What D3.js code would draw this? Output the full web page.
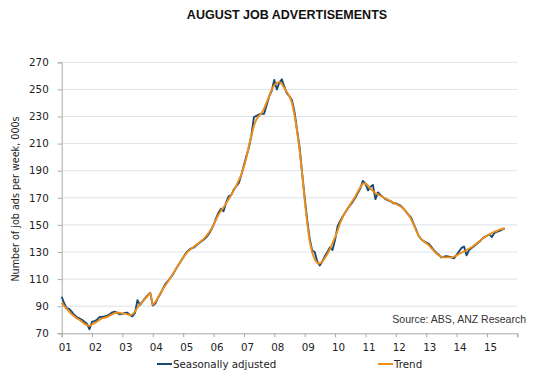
<!DOCTYPE html>
<html>
<head>
<meta charset="utf-8">
<script src="https://cdn.jsdelivr.net/npm/d3@7"></script>
<style>
  html, body { margin: 0; padding: 0; background: #ffffff; }
  svg { display: block; }
</style>
</head>
<body>
<svg id="chart" width="542" height="376"></svg>
<script>
// ---------- data ----------
const chartTitle = "AUGUST JOB ADVERTISEMENTS";
const yAxisTitle = "Number of job ads per week, 000s";
const sourceNote = "Source: ABS, ANZ Research";
const seriesNames = ["Seasonally adjusted", "Trend"];
const firstMonth = "2001-01";   // monthly observations, Jan 2001 .. Aug 2015
const xTickYears = [2001, 2002, 2003, 2004, 2005, 2006, 2007, 2008, 2009, 2010, 2011, 2012, 2013, 2014, 2015];
const xTickLabels = ["01", "02", "03", "04", "05", "06", "07", "08", "09", "10", "11", "12", "13", "14", "15"];
const yTicks = [70, 90, 110, 130, 150, 170, 190, 210, 230, 250, 270];

const seasonallyAdjusted = [
  97, 92, 88.5, 88, 86, 83.5, 82, 81, 80, 78.5, 77, 73,            // 2001
  78.5, 79, 80, 82, 82, 82.5, 83, 84, 85.5, 86, 85, 84,            // 2002
  84.3, 85, 85.3, 83.5, 82.5, 85, 94.5, 91, 93.5, 96, 98, 100,     // 2003
  90.5, 92, 96, 99, 103, 106.5, 108.5, 111, 113.5, 117, 120, 123,  // 2004
  126, 129, 131, 132.5, 133, 134.5, 136, 137.5, 139, 140.5, 143, 146, // 2005
  150, 155, 159, 162, 160, 166.5, 171, 172, 176, 178.5, 181, 187,  // 2006
  194, 201, 207, 216, 229.5, 230.5, 231.5, 232, 232, 238.5, 245, 249, // 2007
  257, 250, 255, 257.5, 252, 247, 245, 242, 233, 220, 207, 188,    // 2008
  170, 153, 140, 131, 130, 123, 120, 123, 127, 130, 133.5, 131.5,  // 2009
  139, 149, 152.5, 156, 159, 162, 164.5, 167, 170, 173.5, 177, 182.5, // 2010
  180.5, 175.5, 178, 179.5, 169, 174, 172, 170.5, 169, 168, 167.5, 166, // 2011
  166, 165, 164, 162, 160, 157.5, 155.5, 151, 146.5, 142, 139.5, 138, // 2012
  137, 136, 134, 131.5, 129.5, 128, 126, 126.5, 127, 126.5, 126, 125.3, // 2013
  128, 130.5, 133, 134, 127.5, 131.5, 133, 134.5, 136, 137.5, 139.5, 141, // 2014
  142, 143, 141, 144, 145, 145.5, 146.5, 147.5                      // 2015
];

const trend = [
  92.5, 90, 88, 86, 84, 82.5, 81, 80, 78.5, 77, 76, 75.5,          // 2001
  76.5, 77.5, 78.5, 80, 81, 81.5, 82, 83, 84, 85, 85.5, 85,        // 2002
  84.5, 84.5, 84, 83.5, 84, 86, 89, 91.5, 93.5, 95.5, 97.5, 100,   // 2003
  91, 93, 96, 99.5, 102.5, 105.5, 108, 111, 114, 117, 120, 123,    // 2004
  126, 128.5, 130.5, 132, 133.5, 135, 136.5, 138, 139.5, 141.5, 144, 146.5, // 2005
  150, 154, 157.5, 160.5, 163, 166, 169, 172, 175.5, 179, 183, 187, // 2006
  193, 200, 208, 216, 223, 228, 230.5, 232.5, 236, 240.5, 245, 250, // 2007
  253, 255, 255.5, 254, 251, 248, 245, 240, 231, 219, 205, 188,    // 2008
  168, 151, 138, 129.5, 124.5, 122, 121.5, 123, 125.5, 128.5, 132, 136.5, // 2009
  141, 146, 151, 155.5, 159, 162, 165, 168, 171, 174.5, 178, 180.5, // 2010
  180.5, 179, 177, 175, 173.5, 172.5, 171.5, 170.5, 169.5, 168.5, 167.5, 166.5, // 2011
  165.5, 164.5, 163.5, 162, 160, 157.5, 154.5, 150.5, 146, 142, 139.5, 138, // 2012
  136.5, 135, 133, 131, 129, 127.5, 126.5, 126, 126, 126, 126, 126.5, // 2013
  127.5, 128.5, 129.5, 130.5, 131.5, 132.5, 133.5, 135, 136.5, 138, 139.5, 141, // 2014
  142, 143, 144, 145, 145.5, 146.5, 147, 147.5                     // 2015
];

// ---------- layout ----------
const svg = d3.select("#chart");
const plot = { left: 61.7, right: 517.3, top: 62.3, bottom: 333.3 };
const colors = { sa: "#1B4A72", trend: "#EE8F1C", grid: "#DCE3EA", axis: "#A8A8A8", text: "#222222" };
const tickFont = "'DejaVu Sans', Verdana, sans-serif";

const parseMonth = d3.timeParse("%Y-%m");
const start = parseMonth(firstMonth);
const dates = d3.range(seasonallyAdjusted.length).map(i => d3.timeMonth.offset(start, i));

const x = d3.scaleTime()
  .domain([new Date(2001, 0, 1), new Date(2016, 0, 1)])
  .range([plot.left, plot.right]);
const y = d3.scaleLinear()
  .domain([d3.min(yTicks), d3.max(yTicks)])
  .range([plot.bottom, plot.top]);

// gridlines
svg.append("g").selectAll("line").data(yTicks.filter(v => v !== 70)).join("line")
  .attr("x1", plot.left).attr("x2", plot.right)
  .attr("y1", d => y(d)).attr("y2", d => y(d))
  .attr("stroke", colors.grid).attr("stroke-width", 1);

// y axis
const yAxis = d3.axisLeft(y).tickValues(yTicks).tickSize(4).tickPadding(9).tickFormat(d3.format("d"));
const gy = svg.append("g").attr("transform", `translate(${plot.left},0)`).call(yAxis);
gy.select(".domain").attr("stroke", colors.axis);
gy.selectAll(".tick line").attr("stroke", colors.axis);
gy.selectAll(".tick text").attr("fill", colors.text).style("font-family", tickFont).style("font-size", "10.3px");

// x axis
const yearDates = xTickYears.map(yr => new Date(yr, 0, 1)).concat([new Date(2016, 0, 1)]);
const xAxis = d3.axisBottom(x).tickValues(yearDates).tickSize(4).tickPadding(6)
  .tickFormat((d, i) => xTickLabels[i] !== undefined ? xTickLabels[i] : "");
const gx = svg.append("g").attr("transform", `translate(0,${plot.bottom})`).call(xAxis);
gx.select(".domain").attr("stroke", colors.axis);
gx.selectAll(".tick line").attr("stroke", colors.axis);
gx.selectAll(".tick text").attr("fill", colors.text).attr("dx", "3px").style("font-family", tickFont).style("font-size", "10.3px");

// lines
const line = d3.line().x((d, i) => x(dates[i])).y(d => y(d));
svg.append("path").datum(seasonallyAdjusted)
  .attr("d", line).attr("fill", "none")
  .attr("stroke", colors.sa).attr("stroke-width", 1.9).attr("stroke-linejoin", "round");
svg.append("path").datum(trend)
  .attr("d", line).attr("fill", "none")
  .attr("stroke", colors.trend).attr("stroke-width", 1.9).attr("stroke-linejoin", "round");

// title
svg.append("text").attr("x", 287).attr("y", 19).attr("text-anchor", "middle")
  .style("font-family", "'Liberation Sans', Arial, sans-serif").style("font-weight", "bold")
  .style("font-size", "12.5px").attr("fill", "#111").text(chartTitle);

// y axis title
svg.append("text").attr("transform", "translate(19,199) rotate(-90)").attr("text-anchor", "middle")
  .style("font-family", tickFont).style("font-size", "9.6px").attr("fill", colors.text).text(yAxisTitle);

// source note
svg.append("text").attr("x", 526).attr("y", 323).attr("text-anchor", "end")
  .style("font-family", "'Liberation Sans', Arial, sans-serif").style("font-size", "10.5px")
  .attr("fill", "#333").text(sourceNote);

// legend
const legendItems = [
  { name: seriesNames[0], color: colors.sa, x: 157 },
  { name: seriesNames[1], color: colors.trend, x: 378 }
];
const lg = svg.append("g").selectAll("g").data(legendItems).join("g")
  .attr("transform", d => `translate(${d.x},364)`);
lg.append("line").attr("x1", 0).attr("x2", 15).attr("y1", 0).attr("y2", 0)
  .attr("stroke", d => d.color).attr("stroke-width", 2);
lg.append("text").attr("x", 16).attr("y", 4)
  .style("font-family", tickFont).style("font-size", "10.3px").attr("fill", colors.text)
  .text(d => d.name);
</script>
</body>
</html>
